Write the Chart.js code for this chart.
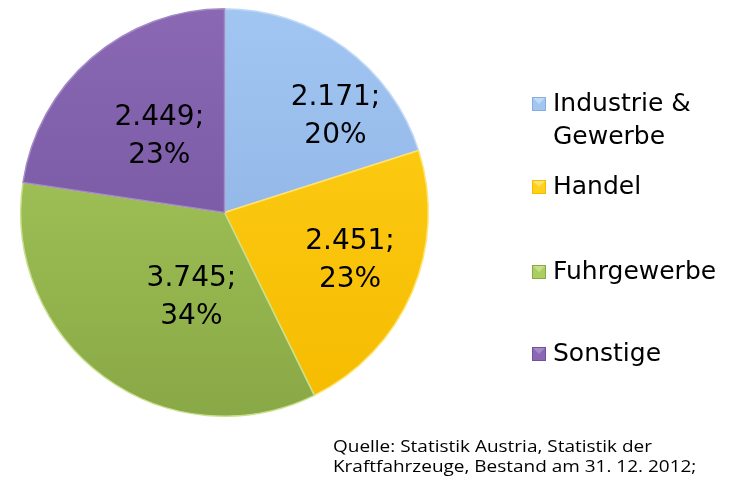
<!DOCTYPE html>
<html>
<head>
<meta charset="utf-8">
<script src="https://cdn.jsdelivr.net/npm/chart.js@4.4.1/dist/chart.umd.min.js"></script>
<style>
    html, body { margin: 0; padding: 0; background: #ffffff; }
    #wrap { position: relative; width: 740px; height: 485px; }
    #fontwarm { position: absolute; left: -999px; font-family: "Open Sans"; font-size: 16px; }
</style>
</head>
<body>
<span id="fontwarm">Quelle</span>
<div id="wrap"><canvas id="pieChart"></canvas></div>
<script>
// --- Data ---
const categories = ['Industrie & Gewerbe', 'Handel', 'Fuhrgewerbe', 'Sonstige'];
const vehicles = [2171, 2451, 3745, 2449];
const percentLabels = ['20%', '23%', '34%', '23%'];
const sourceLines = [
    'Quelle: Statistik Austria, Statistik der',
    'Kraftfahrzeuge, Bestand am 31. 12. 2012;'
];

// --- Styling ---
const lightColors = ['#a2c6f2', '#ffd11a', '#abcf5e', '#8a68b3'];
const darkColors = ['#86ace0', '#f5bb00', '#89a846', '#6f519c'];
const edgeColors = ['#c3daf7', '#ffe36e', '#c8e08c', '#a48bc6'];

// label placement relative to the slice: angle shift (degrees) and radius fraction
const labelShift = [13, -2, -15, 0];
const labelRadius = [0.72, 0.66, 0.45, 0.49];

// legend rows (first text line centre) on the right side
const legendTop = [104, 187, 272, 354];

function formatThousands(v) {
    return String(v).replace(/\B(?=(\d{3})+(?!\d))/g, '.');
}

function sliceGradient(context) {
    const chart = context.chart;
    const area = chart.chartArea;
    if (!area) return lightColors[context.dataIndex];
    const g = chart.ctx.createLinearGradient(0, area.top, 0, area.bottom);
    g.addColorStop(0, lightColors[context.dataIndex]);
    g.addColorStop(1, darkColors[context.dataIndex]);
    return g;
}

const sliceLabels = {
    id: 'sliceLabels',
    afterDatasetsDraw(chart) {
        const ctx = chart.ctx;
        const arcs = chart.getDatasetMeta(0).data;
        ctx.save();
        ctx.font = '28px "DejaVu Sans"';
        ctx.fillStyle = '#000000';
        ctx.textAlign = 'center';
        ctx.textBaseline = 'middle';
        arcs.forEach((arc, i) => {
            const p = arc.getProps(['x', 'y', 'startAngle', 'endAngle', 'outerRadius'], true);
            const a = (p.startAngle + p.endAngle) / 2 + labelShift[i] * Math.PI / 180;
            const r = p.outerRadius * labelRadius[i];
            const x = p.x + r * Math.cos(a);
            const y = p.y + r * Math.sin(a);
            ctx.fillText(formatThousands(vehicles[i]) + ';', x, y - 19);
            ctx.fillText(percentLabels[i], x, y + 19);
        });
        ctx.restore();
    }
};

const sideLegend = {
    id: 'sideLegend',
    afterDraw(chart) {
        const ctx = chart.ctx;
        ctx.save();
        ctx.font = '25px "DejaVu Sans"';
        ctx.textBaseline = 'middle';
        ctx.fillStyle = '#000000';
        categories.forEach((name, i) => {
            // wrap the label like the original
            const words = name.split(' ');
            const lines = [];
            let line = '';
            words.forEach(w => {
                const test = line ? line + ' ' + w : w;
                if (ctx.measureText(test).width > 175 && line) {
                    lines.push(line);
                    line = w;
                } else {
                    line = test;
                }
            });
            lines.push(line);

            const y = legendTop[i];
            const bx = 532, by = y - 7, s = 14;
            ctx.fillStyle = lightColors[i];
            ctx.fillRect(bx, by, s, s);
            ctx.fillStyle = edgeColors[i];
            ctx.beginPath();
            ctx.moveTo(bx, by);
            ctx.lineTo(bx + s, by);
            ctx.lineTo(bx + s / 2, by + s / 2);
            ctx.closePath();
            ctx.fill();
            ctx.strokeStyle = darkColors[i];
            ctx.lineWidth = 1;
            ctx.strokeRect(bx + 0.5, by + 0.5, s - 1, s - 1);

            ctx.fillStyle = '#000000';
            lines.forEach((t, k) => ctx.fillText(t, 553, y + k * 33));
        });

        // source note, fitted to the width of the original line
        ctx.font = '16px "Open Sans"';
        ctx.textBaseline = 'alphabetic';
        const sx = 319 / ctx.measureText(sourceLines[0]).width;
        sourceLines.forEach((t, k) => {
            ctx.save();
            ctx.translate(333, 452 + k * 20);
            ctx.scale(sx, 1);
            ctx.fillText(t, 0, 0);
            ctx.restore();
        });
        ctx.restore();
    }
};

function drawChart() {
    const ctx = document.getElementById('pieChart').getContext('2d');
    new Chart(ctx, {
        type: 'pie',
        data: {
            labels: categories,
            datasets: [{
                label: 'Kraftfahrzeuge',
                data: vehicles,
                backgroundColor: sliceGradient,
                borderColor: edgeColors,
                borderWidth: 1.5
            }]
        },
        options: {
            responsive: true,
            maintainAspectRatio: false,
            animation: false,
            layout: {
                padding: { left: 20, top: 8, right: 311, bottom: 68 }
            },
            plugins: {
                legend: { display: false },
                tooltip: { enabled: false }
            }
        },
        plugins: [sliceLabels, sideLegend]
    });
}

document.fonts.load('16px "Open Sans"').then(drawChart, drawChart);
</script>
</body>
</html>
